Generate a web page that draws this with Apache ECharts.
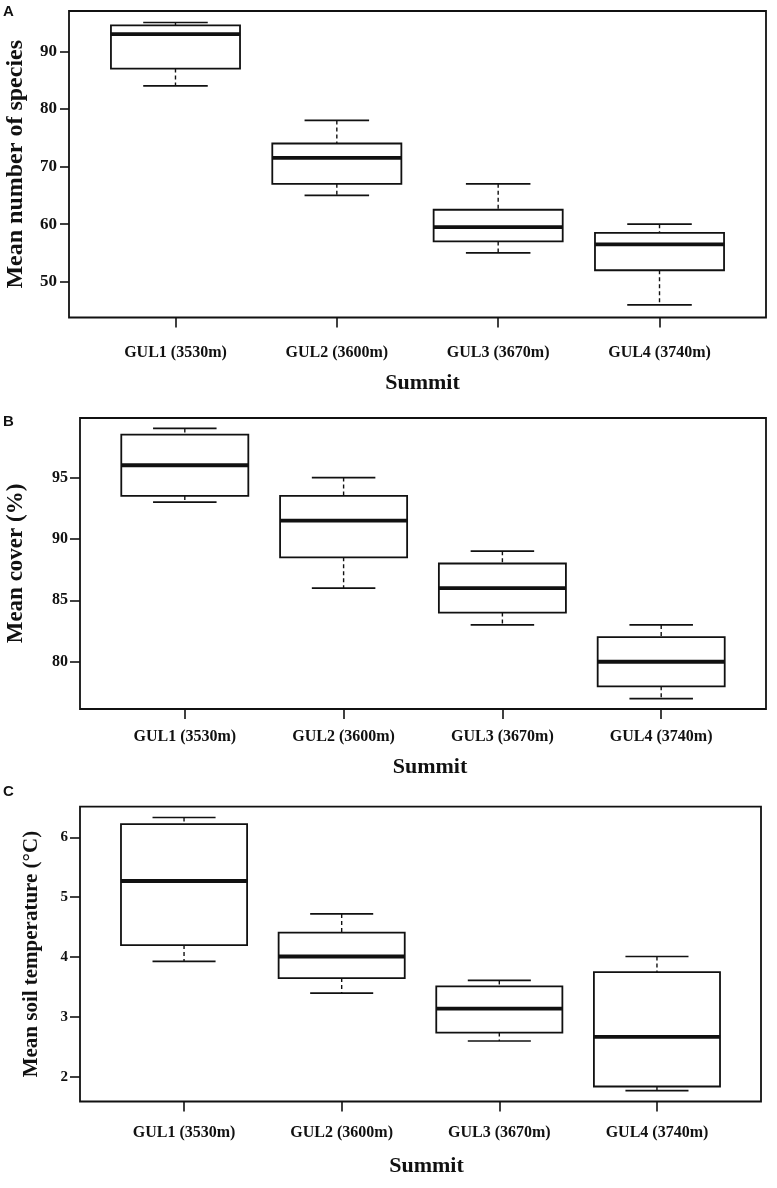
<!DOCTYPE html>
<html>
<head>
<meta charset="utf-8">
<script src="https://cdn.jsdelivr.net/npm/echarts@6/dist/echarts.min.js"></script>
<style>
html,body{margin:0;padding:0;background:#fff;}
#chart{width:777px;height:1188px;}
</style>
</head>
<body>
<div id="chart"></div>
<script>
// ---------- data ----------
const categories = ['GUL1 (3530m)', 'GUL2 (3600m)', 'GUL3 (3670m)', 'GUL4 (3740m)'];
const positions = [1, 2, 3, 4];

// A: mean number of species
const speciesMin = [84, 65, 55, 46];
const speciesQ1  = [87, 67, 57, 52];
const speciesMed = [93, 71.5, 59.5, 56.5];
const speciesQ3  = [94.5, 74, 62.5, 58.5];
const speciesMax = [95, 78, 67, 60];
const speciesTicks = [50, 60, 70, 80, 90];

// B: mean cover (%)
const coverMin = [93, 86, 83, 77];
const coverQ1  = [93.5, 88.5, 84, 78];
const coverMed = [96, 91.5, 86, 80];
const coverQ3  = [98.5, 93.5, 88, 82];
const coverMax = [99, 95, 89, 83];
const coverTicks = [80, 85, 90, 95];

// C: mean soil temperature (°C)
const tempMin = [3.93, 3.40, 2.60, 1.77];
const tempQ1  = [4.20, 3.65, 2.74, 1.84];
const tempMed = [5.27, 4.01, 3.14, 2.67];
const tempQ3  = [6.22, 4.41, 3.51, 3.75];
const tempMax = [6.33, 4.72, 3.61, 4.01];
const tempTicks = [2, 3, 4, 5, 6];

// ---------- chart ----------
const INK = '#111';
const SERIF = "'Liberation Serif', 'DejaVu Serif', serif";
const BOX_HALF = 0.4;
const STAPLE_HALF = 0.2;

function boxData(mn, q1, md, q3, mx) {
  return positions.map((p, i) => [p, mn[i], q1[i], md[i], q3[i], mx[i]]);
}

function renderBox(params, api) {
  const x = api.value(0);
  const lo = api.value(1), q1 = api.value(2), md = api.value(3), q3 = api.value(4), hi = api.value(5);
  const c = (xx, yy) => api.coord([xx, yy]);
  const tl = c(x - BOX_HALF, q3), br = c(x + BOX_HALF, q1);
  const mL = c(x - BOX_HALF, md), mR = c(x + BOX_HALF, md);
  const pHi = c(x, hi), pQ3 = c(x, q3), pQ1 = c(x, q1), pLo = c(x, lo);
  const sHiL = c(x - STAPLE_HALF, hi), sHiR = c(x + STAPLE_HALF, hi);
  const sLoL = c(x - STAPLE_HALF, lo), sLoR = c(x + STAPLE_HALF, lo);
  const dash = {stroke: INK, lineWidth: 1.4, lineDash: [4, 3]};
  const solid = {stroke: INK, lineWidth: 1.7};
  return {
    type: 'group',
    children: [
      {type: 'line', shape: {x1: pHi[0], y1: pHi[1], x2: pQ3[0], y2: pQ3[1]}, style: dash},
      {type: 'line', shape: {x1: pQ1[0], y1: pQ1[1], x2: pLo[0], y2: pLo[1]}, style: dash},
      {type: 'line', shape: {x1: sHiL[0], y1: sHiL[1], x2: sHiR[0], y2: sHiR[1]}, style: solid},
      {type: 'line', shape: {x1: sLoL[0], y1: sLoL[1], x2: sLoR[0], y2: sLoR[1]}, style: solid},
      {type: 'rect', shape: {x: tl[0], y: tl[1], width: br[0] - tl[0], height: br[1] - tl[1]},
        style: {fill: '#fff', stroke: INK, lineWidth: 1.8}},
      {type: 'line', shape: {x1: mL[0], y1: mL[1], x2: mR[0], y2: mR[1]},
        style: {stroke: INK, lineWidth: 3.8}}
    ]
  };
}

function xAxisCfg(gridIndex, labelMargin, nameGap, namePadLeft) {
  return {
    type: 'value', gridIndex: gridIndex, min: 0.34, max: 4.66,
    axisLine: {show: false},
    splitLine: {show: false},
    axisTick: {show: true, customValues: positions, length: 10, lineStyle: {color: INK, width: 1.6}},
    axisLabel: {
      show: true, customValues: positions, margin: labelMargin,
      formatter: v => categories[Math.round(v) - 1] || '',
      fontFamily: SERIF, fontWeight: 'bold', fontSize: 16, color: INK
    },
    name: 'Summit', nameLocation: 'middle', nameGap: nameGap,
    nameTextStyle: {fontFamily: SERIF, fontWeight: 'bold', fontSize: 22, color: INK, padding: [0, 0, 0, namePadLeft]}
  };
}

function yAxisCfg(gridIndex, min, max, ticks, name, nameSize, nameGap, labelSize, tickLen) {
  return {
    type: 'value', gridIndex: gridIndex, min: min, max: max,
    axisLine: {show: false},
    splitLine: {show: false},
    axisTick: {show: true, customValues: ticks, length: tickLen, lineStyle: {color: INK, width: 1.6}},
    axisLabel: {
      show: true, customValues: ticks, margin: 12,
      fontFamily: SERIF, fontWeight: 'bold', fontSize: labelSize, color: INK
    },
    name: name, nameLocation: 'middle', nameGap: nameGap,
    nameTextStyle: {fontFamily: SERIF, fontWeight: 'bold', fontSize: nameSize, color: INK}
  };
}

const gridStyle = {show: true, borderColor: INK, borderWidth: 1.8, backgroundColor: 'transparent',
  containLabel: false, outerBoundsMode: 'none'};

const letterStyle = {fontFamily: "'Liberation Sans', Arial, sans-serif", fontWeight: 'bold', fontSize: 15, color: INK};

const option = {
  backgroundColor: '#fff',
  animation: false,
  title: [
    {text: 'A', left: 3, top: 4, padding: 0, textStyle: letterStyle},
    {text: 'B', left: 3, top: 414, padding: 0, textStyle: letterStyle},
    {text: 'C', left: 3, top: 784, padding: 0, textStyle: letterStyle}
  ],
  grid: [
    Object.assign({left: 69, top: 11, width: 697, height: 306.5}, gridStyle),
    Object.assign({left: 80, top: 418, width: 686, height: 291}, gridStyle),
    Object.assign({left: 80, top: 806.7, width: 681, height: 294.8}, gridStyle)
  ],
  xAxis: [
    xAxisCfg(0, 27, 55, 10),
    xAxisCfg(1, 20, 47, 14),
    xAxisCfg(2, 23, 54, 12)
  ],
  yAxis: [
    yAxisCfg(0, 43.8, 97.0, speciesTicks, 'Mean number of species', 24, 41, 17, 9),
    yAxisCfg(1, 76.15, 99.85, coverTicks, 'Mean cover (%)', 23, 52, 16, 10),
    yAxisCfg(2, 1.59, 6.51, tempTicks, 'Mean soil temperature (°C)', 21, 38, 15, 10)
  ],
  series: [
    {type: 'custom', xAxisIndex: 0, yAxisIndex: 0, renderItem: renderBox, silent: true,
      encode: {x: 0, y: [1, 2, 3, 4, 5]},
      data: boxData(speciesMin, speciesQ1, speciesMed, speciesQ3, speciesMax)},
    {type: 'custom', xAxisIndex: 1, yAxisIndex: 1, renderItem: renderBox, silent: true,
      encode: {x: 0, y: [1, 2, 3, 4, 5]},
      data: boxData(coverMin, coverQ1, coverMed, coverQ3, coverMax)},
    {type: 'custom', xAxisIndex: 2, yAxisIndex: 2, renderItem: renderBox, silent: true,
      encode: {x: 0, y: [1, 2, 3, 4, 5]},
      data: boxData(tempMin, tempQ1, tempMed, tempQ3, tempMax)}
  ]
};

const chart = echarts.init(document.getElementById('chart'), null, {renderer: 'canvas'});
chart.setOption(option);
</script>
</body>
</html>
